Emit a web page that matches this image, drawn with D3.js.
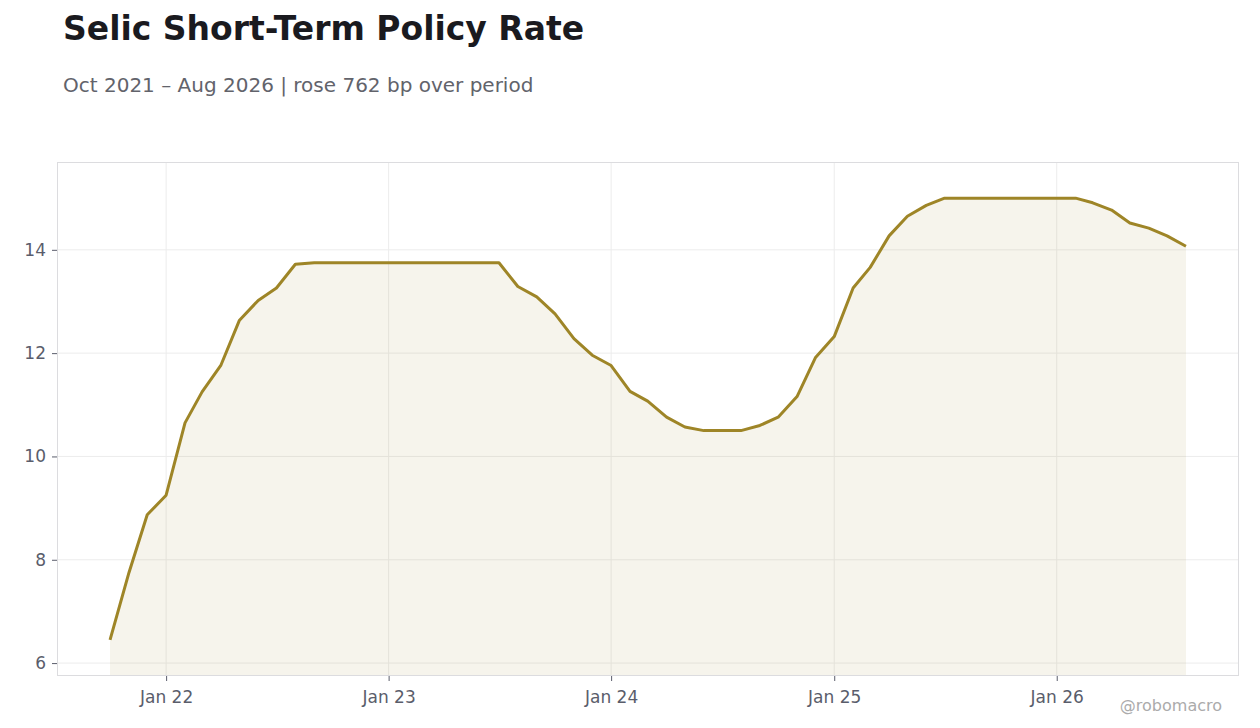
<!DOCTYPE html>
<html>
<head>
<meta charset="utf-8">
<script src="https://cdn.jsdelivr.net/npm/d3@7"></script>
<style>
  body { margin: 0; background: #fff; }
  text { font-family: "DejaVu Sans", sans-serif; }
</style>
</head>
<body>
<div id="chart"></div>
<script>
var width = 1260
var height = 728

// monthly Selic, Oct 2021 .. Aug 2026
var months = [
  "2021-10","2021-11","2021-12",
  "2022-01","2022-02","2022-03","2022-04","2022-05","2022-06","2022-07","2022-08","2022-09","2022-10","2022-11","2022-12",
  "2023-01","2023-02","2023-03","2023-04","2023-05","2023-06","2023-07","2023-08","2023-09","2023-10","2023-11","2023-12",
  "2024-01","2024-02","2024-03","2024-04","2024-05","2024-06","2024-07","2024-08","2024-09","2024-10","2024-11","2024-12",
  "2025-01","2025-02","2025-03","2025-04","2025-05","2025-06","2025-07","2025-08","2025-09","2025-10","2025-11","2025-12",
  "2026-01","2026-02","2026-03","2026-04","2026-05","2026-06","2026-07","2026-08"
]
var rates = [
  6.45, 7.75, 8.87,
  9.25, 10.65, 11.25, 11.77, 12.63, 13.02, 13.26, 13.72, 13.75, 13.75, 13.75, 13.75,
  13.75, 13.75, 13.75, 13.75, 13.75, 13.75, 13.75, 13.29, 13.09, 12.76, 12.28, 11.96,
  11.76, 11.26, 11.07, 10.76, 10.57, 10.50, 10.50, 10.50, 10.60, 10.76, 11.16, 11.91,
  12.32, 13.26, 13.66, 14.27, 14.65, 14.86, 15.00, 15.00, 15.00, 15.00, 15.00, 15.00,
  15.00, 15.00, 14.91, 14.77, 14.52, 14.42, 14.27, 14.07
]
var yTicks = [6, 8, 10, 12, 14]
var xTicks = ["2022-01","2023-01","2024-01","2025-01","2026-01"]

var parse = d3.timeParse("%Y-%m")
var data = months.map(function(m, i) { return { date: parse(m), value: rates[i] } })

var margin = { top: 162, right: 21, bottom: 52, left: 57 }
var innerW = width - margin.left - margin.right
var innerH = height - margin.top - margin.bottom

const svg = d3.select("#chart")
    .append("svg")
    .attr("width", width)
    .attr("height", height)

var first = data[0].date, last = data[data.length - 1].date
var pad = (last - first) * 0.0493
var x = d3.scaleTime()
    .domain([new Date(+first - pad), new Date(+last + pad)])
    .range([margin.left, margin.left + innerW])
var y = d3.scaleLinear()
    .domain([5.75, 15.70])
    .range([margin.top + innerH, margin.top])

// grid
svg.append("g")
    .selectAll("line")
    .data(yTicks)
    .enter()
    .append("line")
    .attr("x1", margin.left).attr("x2", margin.left + innerW)
    .attr("y1", function(d) { return y(d) }).attr("y2", function(d) { return y(d) })
    .style("stroke", "#ececec")
    .style("stroke-width", "1px")
svg.append("g")
    .selectAll("line")
    .data(xTicks.map(parse))
    .enter()
    .append("line")
    .attr("x1", function(d) { return x(d) }).attr("x2", function(d) { return x(d) })
    .attr("y1", margin.top).attr("y2", margin.top + innerH)
    .style("stroke", "#ececec")
    .style("stroke-width", "1px")

// area + line
svg.append("path")
    .datum(data)
    .attr("d", d3.area()
        .x(function(d) { return x(d.date) })
        .y0(margin.top + innerH)
        .y1(function(d) { return y(d.value) }))
    .attr("fill", "#a08a2e")
    .attr("fill-opacity", 0.09)

svg.append("path")
    .datum(data)
    .attr("d", d3.line()
        .x(function(d) { return x(d.date) })
        .y(function(d) { return y(d.value) }))
    .attr("fill", "none")
    .style("stroke", "#9e8527")
    .style("stroke-width", "3px")
    .style("stroke-linejoin", "round")

// frame
svg.append("rect")
    .attr("x", margin.left + 0.5).attr("y", margin.top + 0.5)
    .attr("width", innerW - 1).attr("height", innerH - 1)
    .attr("fill", "none")
    .style("stroke", "#dcdcdf")
    .style("stroke-width", "1px")

// axes
var yAxis = svg.append("g")
    .attr("transform", "translate(" + margin.left + ",0)")
    .call(d3.axisLeft(y).tickValues(yTicks).tickSize(5).tickPadding(6).tickFormat(d3.format("d")))
var xAxis = svg.append("g")
    .attr("transform", "translate(0," + (margin.top + innerH) + ")")
    .call(d3.axisBottom(x).tickValues(xTicks.map(parse)).tickSize(5).tickPadding(10).tickFormat(d3.timeFormat("Jan %y")))
;[yAxis, xAxis].forEach(function(a) {
    a.select(".domain").remove()
    a.selectAll(".tick line").style("stroke", "#5a5d6b")
    a.selectAll(".tick text")
        .style("font-family", "DejaVu Sans, sans-serif")
        .style("font-size", "17px")
        .style("fill", "#5a5d6b")
})

// titles
svg.append("text")
    .attr("x", 63).attr("y", 40)
    .style("font-size", "33px")
    .style("font-weight", "bold")
    .style("fill", "#1a1a1f")
    .text("Selic Short-Term Policy Rate")
svg.append("text")
    .attr("x", 63).attr("y", 92)
    .style("font-size", "20px")
    .style("fill", "#62636b")
    .text("Oct 2021 \u2013 Aug 2026 | rose 762 bp over period")

svg.append("text")
    .attr("x", 1222).attr("y", 711)
    .attr("text-anchor", "end")
    .style("font-size", "16px")
    .style("fill", "#ababab")
    .text("@robomacro")
</script>
</body>
</html>
